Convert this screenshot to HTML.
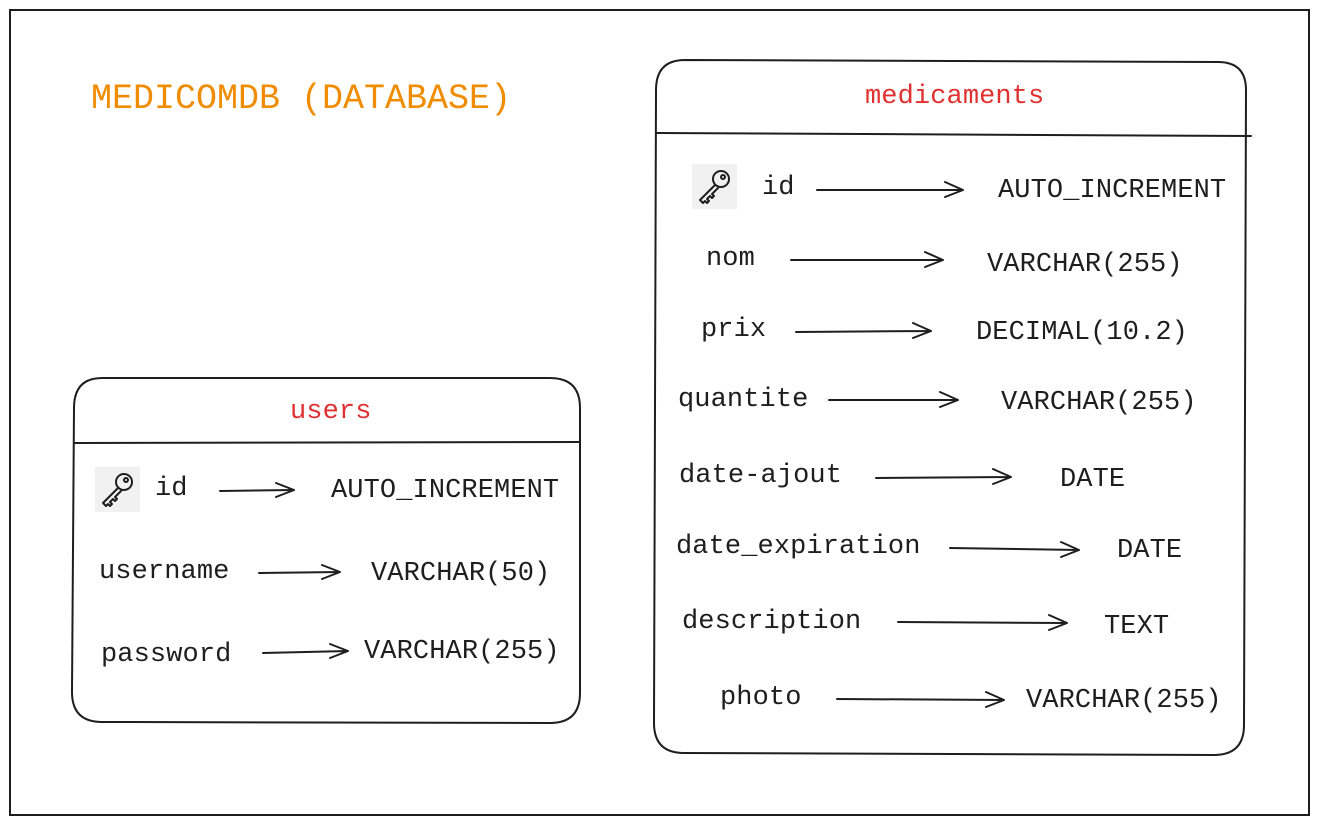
<!DOCTYPE html>
<html><head><meta charset="utf-8"><style>
html,body{margin:0;padding:0;background:#fff;}
svg{display:block}
text{font-family:"Liberation Mono","DejaVu Sans Mono",monospace;font-size:27px;letter-spacing:0.1px;fill:#1e1e1e;dominant-baseline:central}
.a{stroke:#1e1e1e;stroke-width:2;fill:none;stroke-linecap:round;stroke-linejoin:round}
</style></head><body>
<svg width="1318" height="825" viewBox="0 0 1318 825" xmlns="http://www.w3.org/2000/svg">
<defs>
<g id="key">
<rect x="0" y="0" width="45" height="45" fill="#f1f1f1"/>
<g class="a" stroke-width="1.6">
<circle cx="29" cy="15" r="8"/>
<circle cx="31" cy="13" r="2"/>
<path d="M23 21 L8 36 L11 39 L13 37 L15 39 L17 37 L15 35 L18 32 L20 34 L22 32 L20 30 L26 24"/>
</g>
</g>
</defs>
<rect x="10" y="10" width="1299" height="805" fill="none" stroke="#1e1e1e" stroke-width="2"/>
<text x="91" y="99" style="font-size:35px;letter-spacing:0px;fill:#f08c00">MEDICOMDB (DATABASE)</text>

<!-- medicaments -->
<path class="a" d="M685 60 L1218 62 Q1246 62 1246 90 L1244 725 Q1244 755 1214 755 L684 753 Q654 753 654 723 L656 90 Q656 60 685 60 Z"/>
<path class="a" d="M656 133 L1251 136"/>
<text x="865" y="97" style="fill:#e03131">medicaments</text>
<use href="#key" x="692" y="164"/>
<text x="762" y="188">id</text>
<path class="a" d="M817 190 L963 190 M945 182 L963 190 L945 197"/>
<text x="998" y="191">AUTO_INCREMENT</text>
<text x="706" y="259">nom</text>
<path class="a" d="M791 260 L943 260 M925 252 L943 260 L925 267"/>
<text x="987" y="265">VARCHAR(255)</text>
<text x="701" y="330">prix</text>
<path class="a" d="M796 332 L931 331 M913 323 L931 331 L913 338"/>
<text x="976" y="333">DECIMAL(10.2)</text>
<text x="678" y="400">quantite</text>
<path class="a" d="M829 400 L958 400 M940 392 L958 400 L940 407"/>
<text x="1001" y="403">VARCHAR(255)</text>
<text x="679" y="476">date-ajout</text>
<path class="a" d="M876 478 L1011 477 M993 469 L1011 477 L993 484"/>
<text x="1060" y="480">DATE</text>
<text x="676" y="547">date_expiration</text>
<path class="a" d="M950 548 L1079 550 M1061 542 L1079 550 L1061 557"/>
<text x="1117" y="551">DATE</text>
<text x="682" y="622">description</text>
<path class="a" d="M898 622 L1067 623 M1049 615 L1067 623 L1049 630"/>
<text x="1104" y="627">TEXT</text>
<text x="720" y="698">photo</text>
<path class="a" d="M837 699 L1004 700 M986 692 L1004 700 L986 707"/>
<text x="1026" y="701">VARCHAR(255)</text>

<!-- users -->
<path class="a" d="M102 378 L550 378 Q580 378 580 408 L580 693 Q580 723 550 723 L102 722 Q72 722 72 692 L74 408 Q74 378 102 378 Z"/>
<path class="a" d="M75 443 L580 442"/>
<text x="290" y="412" style="fill:#e03131">users</text>
<use href="#key" x="95" y="467"/>
<text x="155" y="489">id</text>
<path class="a" d="M220 491 L294 490 M276 483 L294 490 L276 497"/>
<text x="331" y="491">AUTO_INCREMENT</text>
<text x="99" y="572">username</text>
<path class="a" d="M259 573 L340 572 M322 565 L340 572 L322 579"/>
<text x="371" y="574">VARCHAR(50)</text>
<text x="101" y="655">password</text>
<path class="a" d="M263 653 L348 651 M330 644 L348 651 L330 658"/>
<text x="364" y="652">VARCHAR(255)</text>
</svg>
</body></html>
